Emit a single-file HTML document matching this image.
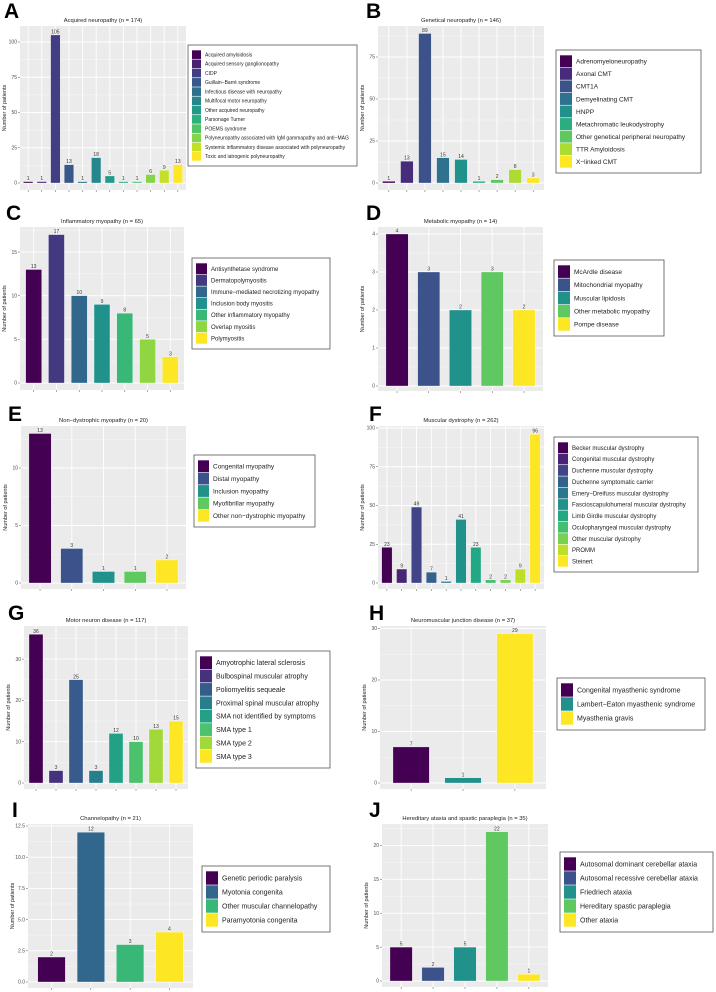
<!DOCTYPE html>
<html><head><meta charset="utf-8"><style>
html,body{margin:0;padding:0;background:#fff;}
svg{display:block;font-family:"Liberation Sans",sans-serif;}
</style></head><body>
<svg id="fig" width="716" height="992" viewBox="0 0 716 992" xmlns="http://www.w3.org/2000/svg"></svg>
<script>
const aCats=["Acquired amyloidosis","Acquired sensory ganglionopathy","CIDP","Guillain\u2212Barré syndrome","Infectious disease with neuropathy","Multifocal motor neuropathy","Other acquired neuropathy","Parsonage Turner","POEMS syndrome","Polyneuropathy associated with IgM gammapathy and anti\u2212MAG","Systemic inflammatory disease associated with polyneuropathy","Toxic and iatrogenic polyneuropathy"];
const aValues=[1,1,105,13,1,18,5,1,1,6,9,13];
const aTicks=[0,25,50,75,100];
const bCats=["Adrenomyeloneuropathy","Axonal CMT","CMT1A","Demyelinating CMT","HNPP","Metachromatic leukodystrophy","Other genetical peripheral neuropathy","TTR Amyloidosis","X\u2212linked CMT"];
const bValues=[1,13,89,15,14,1,2,8,3];
const bTicks=[0,25,50,75];
const cCats=["Antisynthetase syndrome","Dermatopolymyositis","Immune\u2212mediated necrotizing myopathy","Inclusion body myositis","Other inflammatory myopathy","Overlap myositis","Polymyositis"];
const cValues=[13,17,10,9,8,5,3];
const cTicks=[0,5,10,15];
const dCats=["McArdle disease","Mitochondrial myopathy","Muscular lipidosis","Other metabolic myopathy","Pompe disease"];
const dValues=[4,3,2,3,2];
const dTicks=[0,1,2,3,4];
const eCats=["Congenital myopathy","Distal myopathy","Inclusion myopathy","Myofibrillar myopathy","Other non\u2212dystrophic myopathy"];
const eValues=[13,3,1,1,2];
const eTicks=[0,5,10];
const fCats=["Becker muscular dystrophy","Congenital muscular dystrophy","Duchenne muscular dystrophy","Duchenne symptomatic carrier","Emery\u2212Dreifuss muscular dystrophy","Fascioscapulohumeral muscular dystrophy","Limb Girdle muscular dystrophy","Oculopharyngeal muscular dystrophy","Other muscular dystrophy","PROMM","Steinert"];
const fValues=[23,9,49,7,1,41,23,2,2,9,96];
const fTicks=[0,25,50,75,100];
const gCats=["Amyotrophic lateral sclerosis","Bulbospinal muscular atrophy","Poliomyelitis sequeale","Proximal spinal muscular atrophy","SMA not identified by symptoms","SMA type 1","SMA type 2","SMA type 3"];
const gValues=[36,3,25,3,12,10,13,15];
const gTicks=[0,10,20,30];
const hCats=["Congenital myasthenic syndrome","Lambert\u2212Eaton myasthenic syndrome","Myasthenia gravis"];
const hValues=[7,1,29];
const hTicks=[0,10,20,30];
const iCats=["Genetic periodic paralysis","Myotonia congenita","Other muscular channelopathy","Paramyotonia congenita"];
const iValues=[2,12,3,4];
const iTicks=[0,2.5,5,7.5,10,12.5];
const iTickLabels=["0.0","2.5","5.0","7.5","10.0","12.5"];
const jCats=["Autosomal dominant cerebellar ataxia","Autosomal recessive cerebellar ataxia","Friedriech ataxia","Hereditary spastic paraplegia","Other ataxia"];
const jValues=[5,2,5,22,1];
const jTicks=[0,5,10,15,20];

const titles={A:"Acquired neuropathy (n = 174)",B:"Genetical neuropathy (n = 146)",C:"Inflammatory myopathy (n = 65)",D:"Metabolic myopathy (n = 14)",E:"Non\u2212dystrophic myopathy (n = 20)",F:"Muscular dystrophy (n = 262)",G:"Motor neuron disease (n = 117)",H:"Neuromuscular junction disease (n = 37)",I:"Channelopathy (n = 21)",J:"Hereditary ataxia and spastic paraplegia (n = 35)"};

// layout: plot x0,x1,top,bottom, zero pixel, px per unit; legend box; legend font; letter pos
const layout=[
 {id:"A",cats:aCats,vals:aValues,ticks:aTicks,x0:20,x1:186,top:26,bot:190,zero:183,ppu:1.41,lg:[188,357,45,166],lk:9,lfs:5,lx:4,ly:18},
 {id:"B",cats:bCats,vals:bValues,ticks:bTicks,x0:378,x1:544,top:26,bot:190,zero:183,ppu:1.68,lg:[556,701,50,173],lk:12,lfs:6.5,lx:366,ly:18},
 {id:"C",cats:cCats,vals:cValues,ticks:cTicks,x0:20,x1:184,top:227,bot:390,zero:383,ppu:8.73,lg:[192,330,258,349],lk:11,lfs:6,lx:6,ly:220},
 {id:"D",cats:dCats,vals:dValues,ticks:dTicks,x0:378,x1:543,top:227,bot:391,zero:386,ppu:38,lg:[554,664,260,336],lk:12,lfs:6.5,lx:366,ly:220},
 {id:"E",cats:eCats,vals:eValues,ticks:eTicks,x0:21,x1:186,top:426,bot:589,zero:583,ppu:11.5,lg:[194,315,455,527],lk:11,lfs:6.5,lx:8,ly:421},
 {id:"F",cats:fCats,vals:fValues,ticks:fTicks,x0:378,x1:544,top:426,bot:589,zero:583,ppu:1.55,lg:[554,698,437,572],lk:10,lfs:6,lx:369,ly:421},
 {id:"G",cats:gCats,vals:gValues,ticks:gTicks,x0:24,x1:188,top:626,bot:789,zero:783,ppu:4.13,lg:[196,330,651,768],lk:12,lfs:7,lx:8,ly:620},
 {id:"H",cats:hCats,vals:hValues,ticks:hTicks,x0:380,x1:546,top:626,bot:789,zero:783,ppu:5.15,lg:[557,705,678,730],lk:12,lfs:7,lx:369,ly:620},
 {id:"I",cats:iCats,vals:iValues,ticks:iTicks,tl:iTickLabels,x0:28,x1:193,top:824,bot:988,zero:982,ppu:12.48,lg:[202,330,866,932],lk:12,lfs:7,lx:12,ly:817},
 {id:"J",cats:jCats,vals:jValues,ticks:jTicks,x0:382,x1:548,top:824,bot:987,zero:981,ppu:6.78,lg:[560,713,852,932],lk:12,lfs:7,lx:369,ly:817}
];

const vir=["#440154","#482475","#414487","#355f8d","#2a788e","#21918c","#22a884","#44bf70","#7ad151","#bddf26","#fde725"];
function hx(c){return [1,3,5].map(i=>parseInt(c.substr(i,2),16));}
function viridis(t){const p=t*10,i=Math.min(9,Math.floor(p)),f=p-i;const a=hx(vir[i]),b=hx(vir[i+1]);return "rgb("+a.map((v,k)=>Math.round(v+(b[k]-v)*f)).join(",")+")";}

const NS="http://www.w3.org/2000/svg";
const svg=document.getElementById("fig");
function mk(tag,attrs,parent,text){const e=document.createElementNS(NS,tag);for(const k in attrs)e.setAttribute(k,attrs[k]);if(text!==undefined)e.textContent=text;(parent||svg).appendChild(e);return e;}

layout.forEach(P=>{
 const g=mk("g",{});
 
 
 const n=P.cats.length;
 const unit=(P.x1-P.x0)/(n+0.2);
 const xc=i=>P.x0+unit*(0.6+i);
 const y=v=>P.zero-v*P.ppu;
 const bg=mk("rect",{x:P.x0,y:P.top,width:P.x1-P.x0,height:P.bot-P.top,fill:"#ebebeb"},g);
 
 
 // minor grid
 for(let k=0;k<P.ticks.length;k++){
  const step=P.ticks.length>1?P.ticks[1]-P.ticks[0]:1;
  const mv=P.ticks[k]+step/2; const my=y(mv);
  if(my>P.top) mk("line",{x1:P.x0,x2:P.x1,y1:my,y2:my,stroke:"#f7f7f7","stroke-width":0.5},g);
 }
 P.ticks.forEach((t,k)=>{
  const ty=y(t);
  const gl=mk("line",{x1:P.x0,x2:P.x1,y1:ty,y2:ty,stroke:"#fff","stroke-width":0.9},g);
  
  
  mk("line",{x1:P.x0-2,x2:P.x0,y1:ty,y2:ty,stroke:"#555","stroke-width":0.5},g);
  const tl=mk("text",{x:P.x0-3,y:ty+1.7,"font-size":5,fill:"#4d4d4d","text-anchor":"end"},g,P.tl?P.tl[k]:String(t));
  
  
 });
 P.cats.forEach((c,i)=>{
  mk("line",{x1:xc(i),x2:xc(i),y1:P.top,y2:P.bot,stroke:"#fff","stroke-width":0.9},g);
  mk("line",{x1:xc(i),x2:xc(i),y1:P.bot,y2:P.bot+2,stroke:"#555","stroke-width":0.5},g);
 });
 P.vals.forEach((v,i)=>{
  const col=viridis(n>1?i/(n-1):0);
  const w=unit*0.7;
  const b=mk("rect",{x:xc(i)-w/2,y:y(v),width:w,height:v*P.ppu,fill:col,stroke:"#fff","stroke-width":0.3},g);
  
  
  const vl=mk("text",{x:xc(i),y:y(v)-1.5,"font-size":5,fill:"#333","text-anchor":"middle"},g,String(v));
  
  
 });
 const cx=(P.x0+P.x1)/2;
 const tt=mk("text",{x:cx,y:P.top-4,"font-size":5.8,fill:"#222","text-anchor":"middle"},g,titles[P.id]);
 
 
 const yt=mk("text",{x:0,y:0,"font-size":5.5,fill:"#222","text-anchor":"middle",transform:"translate("+(P.x0-14)+","+((P.top+P.bot)/2)+") rotate(-90)"},g,"Number of patients");
 
 
 const lt=mk("text",{x:P.lx,y:P.ly,"font-size":21,"font-weight":"bold",fill:"#000"},g,P.id);
 
 
 // legend
 const [l0,l1,t0,t1]=P.lg;
 const lgG=mk("g",{},g);
 
 
 mk("rect",{x:l0,y:t0,width:l1-l0,height:t1-t0,fill:"#fff",stroke:"#555","stroke-width":0.8},lgG);
 const pad=(t1-t0-P.lk)/n; // unused helper
 const rowH=(t1-t0-10)/n;
 P.cats.forEach((c,i)=>{
  const col=viridis(n>1?i/(n-1):0);
  const ry=t0+5+rowH*i;
  const e=mk("g",{},lgG);
  
  
  mk("rect",{x:l0+4,y:ry+0.3,width:P.lk,height:rowH-0.6,fill:col},e);
  mk("text",{x:l0+P.lk+8,y:ry+rowH/2+P.lfs*0.36,"font-size":P.lfs,fill:"#222"},e,c);
 });
});
</script>
</body></html>
